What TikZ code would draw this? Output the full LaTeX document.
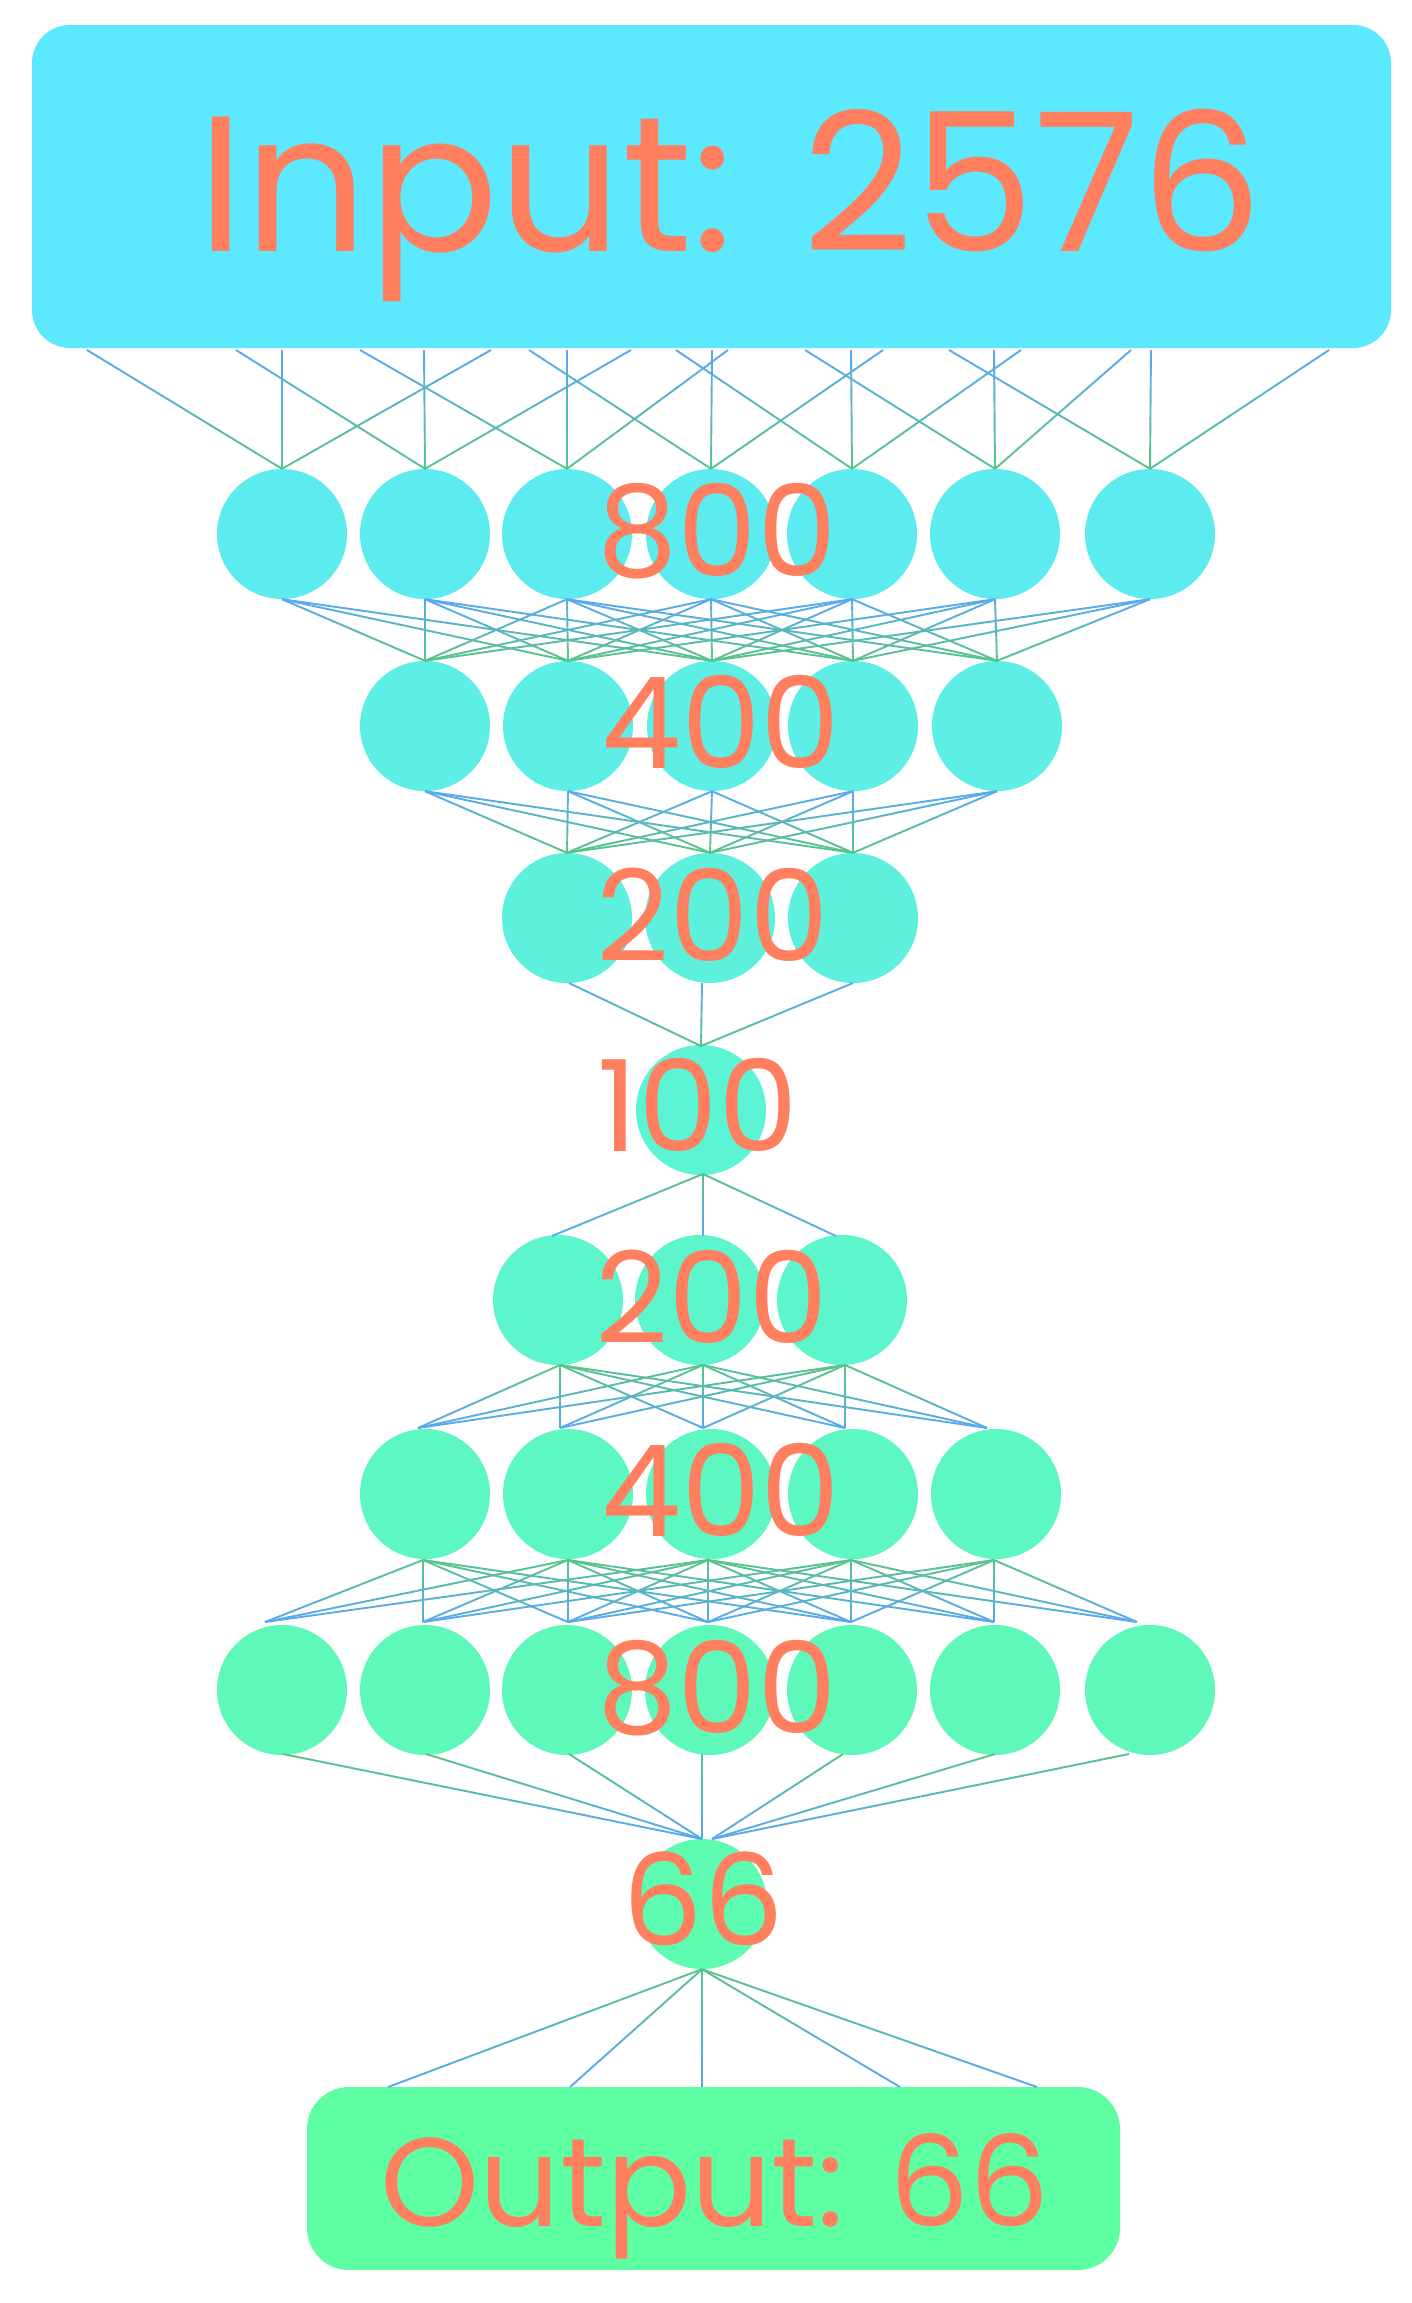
\documentclass[tikz,border=0pt]{standalone}
\usepackage{fontspec}
\setmainfont{Poppins}
\usetikzlibrary{calc}
\definecolor{lblue}{HTML}{58A8F5}
\definecolor{lgreen}{HTML}{58C487}
\definecolor{ncyan}{HTML}{5CE8FF}
\definecolor{ngreen}{HTML}{5EFFA3}
\definecolor{txt}{HTML}{FF7F5F}
\tikzset{
  conn/.style={line width=1.9pt},
  neuron/.style={circle, inner sep=0pt, minimum size=130pt, draw=none},
  lbl/.style={text=txt, anchor=base, inner sep=0pt},
  bigtxt/.style={font=\fontsize{193}{200}\selectfont},
  numtxt/.style={font=\fontsize{127}{130}\selectfont},
  outtxt/.style={font=\fontsize{126}{130}\selectfont},
}
\newcommand\gline[4]{%
  \foreach \k in {0,...,9}{%
    \pgfmathsetmacro\ta{\k/10}%
    \pgfmathsetmacro\tb{(\k+1)/10}%
    \pgfmathsetmacro\pc{95-\k*10}%
    \draw[conn, color=#3!\pc!#4] ($(#1)!\ta!(#2)$) -- ($(#1)!\tb!(#2)$);
  }}
\begin{document}
\begin{tikzpicture}[x=1pt,y=-1pt]
\fill[white] (0,0) rectangle (1412,2303);
\useasboundingbox (0,0) rectangle (1412,2303);
% boxes
\node[fill=ncyan, rounded corners=38pt, minimum width=1359pt, minimum height=323pt, inner sep=0pt] (inbox) at (711.5,186.5) {};
\node[fill=ngreen, rounded corners=42pt, minimum width=813pt, minimum height=183pt, inner sep=0pt] (outbox) at (713.5,2178.5) {};
% layers
\foreach \x [count=\i] in {282,425,567,711,852,995,1150}
  \node[neuron, fill=ncyan!83!ngreen] (a\i) at (\x,534) {};
\foreach \x [count=\i] in {425,568,712,853,997}
  \node[neuron, fill=ncyan!73!ngreen] (b\i) at (\x,726) {};
\foreach \x [count=\i] in {567,710,853}
  \node[neuron, fill=ncyan!63!ngreen] (c\i) at (\x,918) {};
\node[neuron, fill=ncyan!54!ngreen] (m) at (701,1110) {};
\foreach \x [count=\i] in {558,700,842}
  \node[neuron, fill=ncyan!44!ngreen] (d\i) at (\x,1300) {};
\foreach \x [count=\i] in {425,568,711,853,996}
  \node[neuron, fill=ncyan!34!ngreen] (e\i) at (\x,1494) {};
\foreach \x [count=\i] in {282,425,567,710,852,995,1150}
  \node[neuron, fill=ncyan!25!ngreen] (f\i) at (\x,1690) {};
\node[neuron, fill=ncyan!14!ngreen] (g) at (702,1904) {};
% connector end points
\foreach \x [count=\i] in {569,702,853} \coordinate (cb\i) at (\x,983);
\coordinate (mt) at (701,1046);
\coordinate (mb) at (703,1174);
\foreach \x [count=\i] in {552,703,836} \coordinate (dt\i) at (\x,1236);
\foreach \x [count=\i] in {560,703,845} \coordinate (db\i) at (\x,1365);
\foreach \x [count=\i] in {418,560,703,845,987} \coordinate (et\i) at (\x,1428);
\foreach \x [count=\i] in {423,568,708,851,994} \coordinate (eb\i) at (\x,1560);
\foreach \x [count=\i] in {265,423,568,708,851,994,1137} \coordinate (ft\i) at (\x,1622);
\foreach \x [count=\i] in {283,426,569,702,843,995,1129} \coordinate (fb\i) at (\x,1754);
\coordinate (gtl) at (702,1839);
\coordinate (gtr) at (712,1839);
% input -> 800
\foreach \x/\t in {87/1,282/1,491/1,236/2,424/2,631/2,360/3,567/3,728/3,529/4,712/4,883/4,676/5,851/5,1021/5,805/6,994/6,1131/6,949/7,1151/7,1329/7}{
  \coordinate (ti\x) at (\x,350);
  \gline{ti\x}{a\t.north}{lblue}{lgreen}
}
% 800 -> 400
\foreach \i in {1,...,7}{
  \foreach \j in {1,...,5}{
    \pgfmathtruncatemacro\dd{abs(\i-\j-1)}
    \ifnum\dd<4 \gline{a\i.south}{b\j.north}{lblue}{lgreen}\fi
  }}
% 400 -> 200
\foreach \i in {1,...,5}{
  \foreach \j in {1,...,3}{
    \gline{b\i.south}{c\j.north}{lblue}{lgreen}
  }}
% 200 -> 100
\foreach \i in {1,...,3}{ \gline{cb\i}{mt}{lblue}{lgreen} }
% 100 -> 200
\foreach \i in {1,...,3}{ \gline{mb}{dt\i}{lgreen}{lblue} }
% 200 -> 400
\foreach \i in {1,...,3}{
  \foreach \j in {1,...,5}{
    \gline{db\i}{et\j}{lgreen}{lblue}
  }}
% 400 -> 800
\foreach \i in {1,...,5}{
  \foreach \j in {1,...,7}{
    \pgfmathtruncatemacro\dd{abs(\j-\i-1)}
    \ifnum\dd<4 \gline{eb\i}{ft\j}{lgreen}{lblue}\fi
  }}
% 800 -> 66
\foreach \i in {1,...,4}{ \gline{fb\i}{gtl}{lgreen}{lblue} }
\foreach \i in {5,...,7}{ \gline{fb\i}{gtr}{lgreen}{lblue} }
% 66 -> output
\foreach \x in {388,570,702,900,1037}{
  \coordinate (to\x) at (\x,2087);
  \gline{g.south}{to\x}{lgreen}{lblue}
}
% labels
\node[lbl, bigtxt] (tin) at (730,251) {Input: 2576};
\node[lbl, numtxt] (t800a) at (717,576) {800};
\node[lbl, numtxt] (t400a) at (721,768) {400};
\node[lbl, numtxt] (t200a) at (713,961) {200};
\node[lbl, numtxt] (t100) at (698,1151) {100};
\node[lbl, numtxt] (t200b) at (712,1343) {200};
\node[lbl, numtxt] (t400b) at (721,1536) {400};
\node[lbl, numtxt] (t800b) at (717,1733) {800};
\node[lbl, numtxt] (t66) at (703,1945) {66};
\node[lbl, outtxt] (tout) at (715,2226) {Output: 66};
\end{tikzpicture}
\end{document}
